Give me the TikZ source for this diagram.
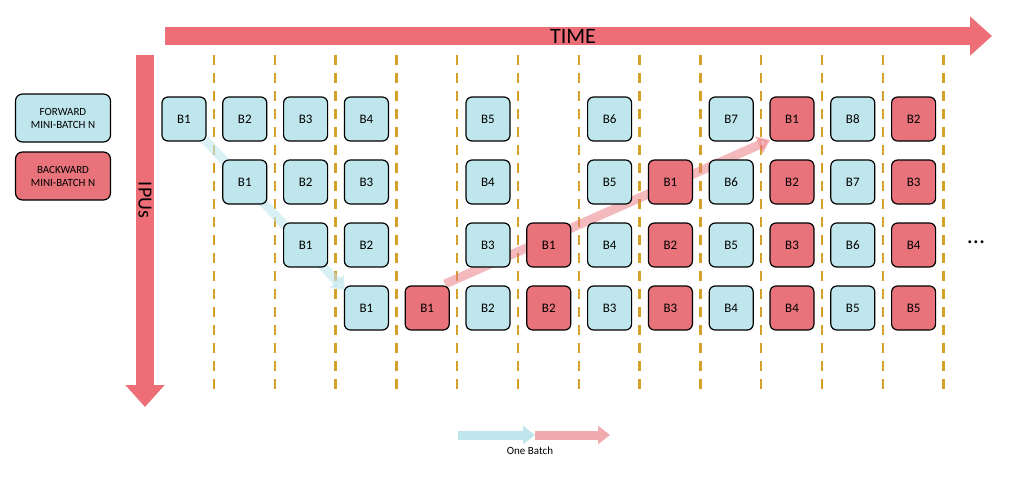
\documentclass[tikz,border=0pt]{standalone}
\usepackage{fontspec}
\setmainfont{Carlito}
\usetikzlibrary{arrows.meta}
\definecolor{fwd}{HTML}{BFE6EC}
\definecolor{bwd}{HTML}{E8737B}
\definecolor{bigred}{HTML}{EE6E78}
\definecolor{gold}{HTML}{D4A12A}

\begin{document}
\begin{tikzpicture}[x=1pt,y=-1pt,
  fbox/.style={rectangle,rounded corners=6pt,draw,line width=1.2pt,fill=fwd,minimum width=44pt,minimum height=44pt,font=\fontsize{13}{15}\selectfont},
  bbox/.style={fbox,fill=bwd},
  legbox/.style={rectangle,rounded corners=7pt,draw,line width=1.2pt,minimum width=95pt,minimum height=48pt,align=center,font=\fontsize{11}{13}\selectfont}]
  \useasboundingbox (0,0) rectangle (1024,480);

  % time and ipu arrows
  \draw[line width=18pt,bigred,-{Triangle[length=22pt,width=38pt]}] (165,36) coordinate (t0) -- (992,36) coordinate (t1);
  \node[font=\fontsize{22}{24}\selectfont] at (573,36) {TIME};
  \draw[line width=18pt,bigred,-{Triangle[length=22pt,width=38pt]}] (145,55) coordinate (p0) -- (145,407) coordinate (p1);
  \node[rotate=-90,font=\fontsize{20}{22}\selectfont] at (145,200) {IPUs};

  % dashed separators
  \foreach \i in {0,...,12}
    \draw[gold,line width=2.5pt,dash pattern=on 10pt off 8pt] (214+60.8*\i,55) -- (214+60.8*\i,395);

  % legend
  \node[legbox,fill=fwd] (legf) at (63,118) {FORWARD\\MINI-BATCH N};
  \node[legbox,fill=bwd] (legb) at (63,176) {BACKWARD\\MINI-BATCH N};

  % batch path
  \draw[line width=9pt,fwd,opacity=.6,-{Triangle[length=12pt,width=18pt]}] (205,140) -- (345,290);
  \draw[line width=9pt,bwd,opacity=.5,-{Triangle[length=12pt,width=18pt]}] (445,284) -- (770,140);

  % mini-batches: column/row/style/label
  \foreach \c/\r/\s/\t in {0/0/fbox/B1,1/0/fbox/B2,2/0/fbox/B3,3/0/fbox/B4,5/0/fbox/B5,7/0/fbox/B6,9/0/fbox/B7,10/0/bbox/B1,11/0/fbox/B8,12/0/bbox/B2,
      1/1/fbox/B1,2/1/fbox/B2,3/1/fbox/B3,5/1/fbox/B4,7/1/fbox/B5,8/1/bbox/B1,9/1/fbox/B6,10/1/bbox/B2,11/1/fbox/B7,12/1/bbox/B3,
      2/2/fbox/B1,3/2/fbox/B2,5/2/fbox/B3,6/2/bbox/B1,7/2/fbox/B4,8/2/bbox/B2,9/2/fbox/B5,10/2/bbox/B3,11/2/fbox/B6,12/2/bbox/B4,
      3/3/fbox/B1,4/3/bbox/B1,5/3/fbox/B2,6/3/bbox/B2,7/3/fbox/B3,8/3/bbox/B3,9/3/fbox/B4,10/3/bbox/B4,11/3/fbox/B5,12/3/bbox/B5}
    \node[\s] (mb-\c-\r) at (184+60.8*\c,119+63*\r) {\t};
  \node[font=\fontsize{24}{26}\selectfont] (dots) at (976,242) {...};

  % batch legend
  \coordinate (ob0) at (458,435);
  \coordinate (ob1) at (535,435);
  \coordinate (ob2) at (610,435);
  \draw[line width=9pt,fwd,-{Triangle[length=12pt,width=18pt]}] (ob0) -- (ob1);
  \draw[line width=9pt,bwd!60,-{Triangle[length=12pt,width=18pt]}] (ob1) -- (ob2);
  \node[font=\fontsize{11}{13}\selectfont] (onebatch) at (530,451) {One Batch};
\end{tikzpicture}
\end{document}
